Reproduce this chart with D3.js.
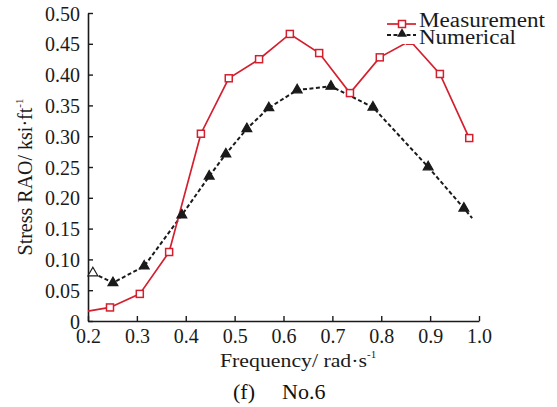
<!DOCTYPE html>
<html><head><meta charset="utf-8">
<script src="https://cdn.jsdelivr.net/npm/d3@7"></script>
<style>
html,body{margin:0;padding:0;background:#fff;}
svg{display:block;font-family:"Liberation Serif","Times New Roman",serif;}
</style></head>
<body>
<svg id="c" width="557" height="407"></svg>
<script>
// ---- data ----
const measFreq = [0.200, 0.245, 0.306, 0.366, 0.431, 0.488, 0.550, 0.613, 0.673, 0.736, 0.797, 0.859, 0.920, 0.980];
const measRAO  = [0.016, 0.022, 0.044, 0.112, 0.304, 0.394, 0.425, 0.466, 0.435, 0.370, 0.428, 0.455, 0.401, 0.297];
const numFreq  = [0.210, 0.251, 0.315, 0.392, 0.448, 0.482, 0.525, 0.570, 0.628, 0.697, 0.783, 0.896, 0.969, 0.986];
const numRAO   = [0.078, 0.062, 0.089, 0.172, 0.235, 0.271, 0.312, 0.346, 0.375, 0.381, 0.347, 0.250, 0.183, 0.167];
const xTicks = [0.2, 0.3, 0.4, 0.5, 0.6, 0.7, 0.8, 0.9, 1.0];
const xTickLabels = ["0.2","0.3","0.4","0.5","0.6","0.7","0.8","0.9","1.0"];
const yTicks = [0, 0.05, 0.10, 0.15, 0.20, 0.25, 0.30, 0.35, 0.40, 0.45, 0.50];
const yTickLabels = ["0","0.05","0.10","0.15","0.20","0.25","0.30","0.35","0.40","0.45","0.50"];
const seriesNames = ["Measurement", "Numerical"];
const xTitle = "Frequency/ rad·s";
const yTitle = "Stress RAO/ ksi·ft";
const caption = ["(f)", "No.6"];

// ---- layout ----
const svg = d3.select("#c");
const x = d3.scaleLinear().domain([0.2, 1.0]).range([88, 479]);
const y = d3.scaleLinear().domain([0, 0.5]).range([321, 13]);
const red = "#d41f2e";
const ink = "#1a1a1a";

const xAxis = d3.axisBottom(x).tickValues(xTicks).tickFormat((d,i)=>xTickLabels[i]).tickSizeInner(-5).tickSizeOuter(0).tickPadding(8);
const yAxis = d3.axisLeft(y).tickValues(yTicks).tickFormat((d,i)=>yTickLabels[i]).tickSizeInner(-5).tickSizeOuter(0).tickPadding(8);

const gx = svg.append("g").attr("transform","translate(0,321)").call(xAxis);
const gy = svg.append("g").attr("transform","translate(88,0)").call(yAxis);
[gx, gy].forEach(g=>{
  g.select(".domain").attr("stroke",ink).attr("stroke-width",1.6);
  g.selectAll(".tick line").attr("stroke",ink).attr("stroke-width",1.4);
  g.selectAll(".tick text").attr("fill",ink).attr("font-size",20).attr("font-family","Liberation Serif, serif");
});
gy.selectAll(".tick text").attr("dy","0.35em");

// lines
const line = d3.line().x(d=>x(d[0])).y(d=>y(d[1]));
const meas = measFreq.map((f,i)=>[f, measRAO[i]]);
const num = numFreq.map((f,i)=>[f, numRAO[i]]);

svg.append("path").datum(num).attr("d", line).attr("fill","none")
  .attr("stroke",ink).attr("stroke-width",2).attr("stroke-dasharray","4,2.5");
svg.append("path").datum(meas).attr("d", line).attr("fill","none")
  .attr("stroke",red).attr("stroke-width",1.7);

// markers (line-only end points: first Measurement point, last Numerical point)
const tri = d3.symbol().type(d3.symbolTriangle).size(42);
svg.append("g").selectAll("path").data(num.slice(0, -1)).join("path")
  .attr("d", tri).attr("transform", d=>`translate(${x(d[0])},${y(d[1])})`)
  .attr("fill", (d,i)=> i===0 ? "#fff" : ink).attr("stroke",ink).attr("stroke-width",1.2);
svg.append("g").selectAll("rect").data(meas.slice(1)).join("rect")
  .attr("x", d=>x(d[0])-3.5).attr("y", d=>y(d[1])-3.5).attr("width",7).attr("height",7)
  .attr("fill","#fff").attr("stroke",red).attr("stroke-width",1.5);

// legend
const lg = svg.append("g");
lg.append("rect").attr("x",386).attr("y",6).attr("width",168).attr("height",38).attr("fill","#fff");
lg.append("line").attr("x1",387).attr("x2",416).attr("y1",24).attr("y2",24).attr("stroke",red).attr("stroke-width",1.7);
lg.append("rect").attr("x",398.5).attr("y",20.5).attr("width",7).attr("height",7).attr("fill","#fff").attr("stroke",red).attr("stroke-width",1.5);
lg.append("line").attr("x1",387).attr("x2",416).attr("y1",35).attr("y2",35).attr("stroke",ink).attr("stroke-width",2).attr("stroke-dasharray","4,2.5");
lg.append("path").attr("d",tri).attr("transform","translate(402,34)").attr("fill",ink);
lg.append("text").attr("x",419).attr("y",27).attr("font-size",20).attr("fill",ink)
  .attr("textLength",126).attr("lengthAdjust","spacingAndGlyphs").text(seriesNames[0]);
lg.append("text").attr("x",419).attr("y",44).attr("font-size",20).attr("fill",ink)
  .attr("textLength",97).attr("lengthAdjust","spacingAndGlyphs").text(seriesNames[1]);

// axis titles
const xt = svg.append("text").attr("x",220).attr("y",367).attr("font-size",19).attr("fill",ink);
xt.append("tspan").attr("textLength",147).attr("lengthAdjust","spacingAndGlyphs").text(xTitle);
xt.append("tspan").attr("font-size",11).attr("dy",-9).text("-1");

const yt = svg.append("text").attr("transform","translate(32,177) rotate(-90)").attr("text-anchor","middle").attr("font-size",20).attr("fill",ink);
yt.append("tspan").text(yTitle);
yt.append("tspan").attr("font-size",11).attr("dy",-9).text("-1");

// caption
svg.append("text").attr("x",233).attr("y",399).attr("font-size",22).attr("fill","#111").text(caption[0]);
svg.append("text").attr("x",282).attr("y",399).attr("font-size",22).attr("fill","#111").text(caption[1]);
</script>
</body></html>
